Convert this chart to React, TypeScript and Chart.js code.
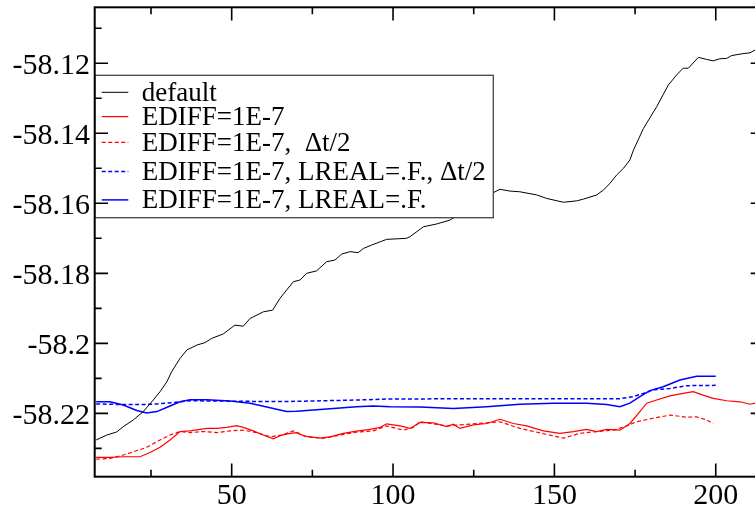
import React, { useEffect, useRef } from "react";
import { Chart, registerables } from "chart.js";

Chart.register(...registerables);

// ---- Series labels ----
const seriesLabels = [
  "default",
  "EDIFF=1E-7",
  "EDIFF=1E-7,  \u0394t/2",
  "EDIFF=1E-7, LREAL=.F., \u0394t/2",
  "EDIFF=1E-7, LREAL=.F.",
];

// ---- default (black) ----
const defaultX = [8, 11.3, 14.4, 16.4, 19.5, 22.6, 25.7, 27.8, 29.9, 31.4, 34.0, 36.1, 39.2, 41.7, 43.8, 47.4, 51.0, 53.6, 55.7, 59.8, 62.7, 65.0, 69.1, 71.2, 73.2, 76.3, 79.4, 82.0, 84.1, 86.7, 89.2, 90.8, 93.4, 96.0, 98.0, 104.2, 105.3, 109.4, 113.5, 117.6, 123.8, 131.6, 133.1, 136.2, 139.3, 144.5, 147.6, 152.8, 156.9, 159.0, 163.1, 165.2, 167.2, 169.3, 171.4, 173.4, 174.5, 177.6, 181.7, 185.3, 187.9, 189.9, 191.5, 194.6, 197.2, 199.2, 201.3, 203.4, 204.9, 208.0, 210.6, 212.2, 215];
const defaultY = [-58.2276, -58.2262, -58.2253, -58.2238, -58.2219, -58.2195, -58.2162, -58.2138, -58.2110, -58.2081, -58.2043, -58.2019, -58.2005, -58.1998, -58.1986, -58.1973, -58.1948, -58.1951, -58.1929, -58.1910, -58.1905, -58.1871, -58.1824, -58.1819, -58.1800, -58.1793, -58.1767, -58.1762, -58.1745, -58.1738, -58.1741, -58.1729, -58.1719, -58.1710, -58.1703, -58.1700, -58.1695, -58.1667, -58.1659, -58.1648, -58.1613, -58.1567, -58.1560, -58.1565, -58.1567, -58.1576, -58.1586, -58.1597, -58.1593, -58.1588, -58.1576, -58.1562, -58.1543, -58.1519, -58.1500, -58.1476, -58.1448, -58.1386, -58.1324, -58.1262, -58.1233, -58.1214, -58.1214, -58.1183, -58.1189, -58.1193, -58.1187, -58.1186, -58.1178, -58.1173, -58.1170, -58.1162, -58.1153];

// ---- EDIFF=1E-7 (red solid) ----
const ediffX = [8, 12.3, 16.4, 21.6, 24.7, 27.8, 30.9, 34.0, 37.1, 42.3, 45.4, 48.5, 51.5, 53.6, 56.7, 59.8, 62.9, 65.5, 68.1, 70.1, 72.2, 74.3, 77.4, 80.5, 84.6, 88.7, 92.9, 96.0, 98.0, 102.2, 105.3, 108.4, 112.5, 116.6, 118.7, 120.7, 124.9, 129.0, 133.1, 137.3, 141.4, 146.6, 151.7, 155.9, 160.0, 163.1, 166.2, 170.3, 173.4, 176.5, 178.6, 181.7, 185.8, 189.9, 193.0, 196.1, 199.2, 203.4, 207.5, 210.6, 212.2, 215];
const ediffY = [-58.2326, -58.2326, -58.2324, -58.2324, -58.2312, -58.2297, -58.2276, -58.2252, -58.2250, -58.2243, -58.2243, -58.2240, -58.2235, -58.2240, -58.2250, -58.2262, -58.2273, -58.2262, -58.2257, -58.2255, -58.2264, -58.2267, -58.2271, -58.2267, -58.2257, -58.2251, -58.2246, -58.2240, -58.2230, -58.2236, -58.2243, -58.2226, -58.2227, -58.2238, -58.2231, -58.2243, -58.2233, -58.2229, -58.2217, -58.2229, -58.2236, -58.2250, -58.2257, -58.2252, -58.2246, -58.2252, -58.2246, -58.2248, -58.2229, -58.2195, -58.2171, -58.2162, -58.2150, -58.2143, -58.2138, -58.2148, -58.2157, -58.2164, -58.2167, -58.2174, -58.2171, -58.2172];

// ---- EDIFF=1E-7, dt/2 (red dashed) ----
const ediffHalfX = [8, 12.3, 16.4, 19.5, 23.7, 27.8, 30.9, 34.0, 37.1, 41.2, 45.4, 49.5, 53.6, 57.7, 61.9, 65.5, 69.1, 73.2, 78.4, 84.6, 88.7, 93.9, 98.0, 103.2, 106.3, 108.4, 116.6, 129.0, 133.1, 139.3, 147.6, 152.8, 157.9, 163.1, 168.3, 172.4, 175.5, 180.6, 185.8, 191.0, 194.1, 197.2, 199.2];
const ediffHalfY = [-58.2331, -58.2329, -58.2319, -58.2310, -58.2297, -58.2276, -58.2262, -58.2252, -58.2255, -58.2252, -58.2255, -58.2250, -58.2248, -58.2255, -58.2267, -58.2262, -58.2250, -58.2267, -58.2271, -58.2260, -58.2254, -58.2250, -58.2236, -58.2248, -58.2240, -58.2224, -58.2236, -58.2227, -58.2224, -58.2243, -58.2260, -58.2271, -58.2257, -58.2252, -58.2248, -58.2236, -58.2224, -58.2214, -58.2205, -58.2211, -58.2210, -58.2219, -58.2229];

// ---- EDIFF=1E-7, LREAL=.F., dt/2 (blue dashed) ----
const lrealHalfX = [8, 12.3, 16.4, 22.6, 26.8, 31.9, 37.1, 47.4, 57.7, 68.1, 78.4, 88.7, 99.1, 108.4, 118.7, 129.0, 139.3, 149.7, 160.0, 170.3, 174.5, 177.6, 180.6, 185.8, 191.0, 200.0];
const lrealHalfY = [-58.2173, -58.2174, -58.2175, -58.2175, -58.2173, -58.2169, -58.2164, -58.2165, -58.2166, -58.2166, -58.2164, -58.2162, -58.2159, -58.2159, -58.2158, -58.2158, -58.2158, -58.2158, -58.2158, -58.2158, -58.2152, -58.2143, -58.2133, -58.2129, -58.2121, -58.2120];

// ---- EDIFF=1E-7, LREAL=.F. (blue solid) ----
const lrealX = [8, 12.3, 16.4, 20.6, 23.7, 26.8, 30.9, 34.0, 37.1, 42.3, 49.5, 55.7, 61.9, 67.0, 70.1, 76.3, 83.6, 88.7, 93.9, 99.1, 108.4, 118.7, 129.0, 139.3, 149.7, 160.0, 166.2, 170.3, 173.4, 176.5, 179.6, 183.7, 188.9, 194.1, 200.0];
const lrealY = [-58.2167, -58.2167, -58.2176, -58.2192, -58.2199, -58.2195, -58.2179, -58.2167, -58.2161, -58.2161, -58.2165, -58.2171, -58.2184, -58.2195, -58.2194, -58.2190, -58.2185, -58.2181, -58.2179, -58.2181, -58.2182, -58.2186, -58.2181, -58.2174, -58.2171, -58.2171, -58.2175, -58.2181, -58.2171, -58.2152, -58.2135, -58.2124, -58.2105, -58.2094, -58.2094];

// ---- Axes ----
const xMin = 7.55;
const xMax = 214.95;
const yMin = -58.2381;
const yMax = -58.104;
const xMajorTicks = [50, 100, 150, 200];
const xMajorLabels = ["50", "100", "150", "200"];
const xMinorTicks = [25, 75, 125, 175];
const yMajorTicks = [-58.22, -58.2, -58.18, -58.16, -58.14, -58.12];
const yMajorLabels = ["-58.22", "-58.2", "-58.18", "-58.16", "-58.14", "-58.12"];
const yMinorTicks = [-58.23, -58.21, -58.19, -58.17, -58.15, -58.13, -58.11];

const FONT = '"Liberation Serif", "Times New Roman", serif';

const toPts = (xs: number[], ys: number[]) => xs.map((x, i) => ({ x, y: ys[i] }));

const framePlugin = {
  id: "xmgrFrame",
  afterDatasetsDraw(chart: any) {
    const { ctx, chartArea: a, scales } = chart;
    const xs = scales.x;
    const ys = scales.y;
    ctx.save();

    // Legend box
    const lx = a.left;
    const ly = a.top + 68;
    const lw = 398.6;
    const lh = 142.4;
    ctx.fillStyle = "#ffffff";
    ctx.fillRect(lx, ly, lw, lh);
    ctx.strokeStyle = "#444444";
    ctx.lineWidth = 1.3;
    ctx.strokeRect(lx, ly, lw, lh);
    const baselines = [25.4, 49.7, 75.4, 104.7, 133.0];
    ctx.font = `27px ${FONT}`;
    ctx.textAlign = "left";
    ctx.textBaseline = "alphabetic";
    chart.data.datasets.forEach((ds: any, i: number) => {
      const by = ly + baselines[i];
      const sy = by - 8.4;
      ctx.beginPath();
      ctx.strokeStyle = ds.borderColor;
      ctx.lineWidth = ds.borderWidth;
      ctx.setLineDash(ds.borderDash || []);
      ctx.moveTo(lx + 7, sy);
      ctx.lineTo(lx + 33.6, sy);
      ctx.stroke();
      ctx.setLineDash([]);
      ctx.fillStyle = "#000000";
      ctx.fillText(ds.label, lx + 47, by);
    });

    // Frame
    ctx.strokeStyle = "#000000";
    ctx.lineWidth = 2;
    ctx.strokeRect(a.left, a.top, a.right - a.left, a.bottom - a.top);

    // Ticks (inward on all four sides)
    ctx.lineWidth = 1.6;
    const vtick = (v: number, len: number) => {
      const px = xs.getPixelForValue(v);
      ctx.beginPath();
      ctx.moveTo(px, a.bottom);
      ctx.lineTo(px, a.bottom - len);
      ctx.moveTo(px, a.top);
      ctx.lineTo(px, a.top + len);
      ctx.stroke();
    };
    const htick = (v: number, len: number) => {
      const py = ys.getPixelForValue(v);
      ctx.beginPath();
      ctx.moveTo(a.left, py);
      ctx.lineTo(a.left + len, py);
      ctx.moveTo(a.right, py);
      ctx.lineTo(a.right - len, py);
      ctx.stroke();
    };
    xMajorTicks.forEach((v) => vtick(v, 13.3));
    xMinorTicks.forEach((v) => vtick(v, 7));
    yMajorTicks.forEach((v) => htick(v, 13.3));
    yMinorTicks.forEach((v) => htick(v, 7));

    // Tick labels
    ctx.fillStyle = "#000000";
    ctx.font = `30px ${FONT}`;
    ctx.textBaseline = "alphabetic";
    ctx.textAlign = "right";
    yMajorTicks.forEach((v, i) => {
      const py = ys.getPixelForValue(v);
      ctx.fillText(yMajorLabels[i], a.left - 4.7, py + 11);
    });
    ctx.textAlign = "center";
    xMajorTicks.forEach((v, i) => {
      const px = xs.getPixelForValue(v);
      ctx.fillText(xMajorLabels[i], px, a.bottom + 27.3);
    });
    ctx.restore();
  },
};

export default function App() {
  const ref = useRef<HTMLCanvasElement | null>(null);
  useEffect(() => {
    if (!ref.current) return;
    const chart = new Chart(ref.current, {
      type: "line",
      data: {
        datasets: [
          { label: seriesLabels[0], data: toPts(defaultX, defaultY), borderColor: "#000000", borderWidth: 1, borderDash: [] },
          { label: seriesLabels[1], data: toPts(ediffX, ediffY), borderColor: "#ff0000", borderWidth: 1.2, borderDash: [] },
          { label: seriesLabels[2], data: toPts(ediffHalfX, ediffHalfY), borderColor: "#ff0000", borderWidth: 1.2, borderDash: [4, 2.5] },
          { label: seriesLabels[3], data: toPts(lrealHalfX, lrealHalfY), borderColor: "#0000ff", borderWidth: 1.5, borderDash: [4, 2.5] },
          { label: seriesLabels[4], data: toPts(lrealX, lrealY), borderColor: "#0000ff", borderWidth: 1.5, borderDash: [] },
        ] as any,
      },
      options: {
        animation: false,
        responsive: false,
        devicePixelRatio: 1,
        parsing: false as any,
        elements: { point: { radius: 0 }, line: { tension: 0, fill: false } },
        layout: { padding: { left: 94.7, top: 7.3, right: 16, bottom: 33.3 } },
        scales: {
          x: { type: "linear", min: xMin, max: xMax, display: false },
          y: { type: "linear", min: yMin, max: yMax, display: false },
        },
        plugins: { legend: { display: false }, tooltip: { enabled: false } },
      },
      plugins: [framePlugin],
    });
    return () => chart.destroy();
  }, []);

  return (
    <div style={{ position: "fixed", left: 0, top: 0, width: 755, height: 510, overflow: "hidden", background: "#fff" }}>
      <canvas ref={ref} width={780} height={510} style={{ display: "block" }} />
    </div>
  );
}
